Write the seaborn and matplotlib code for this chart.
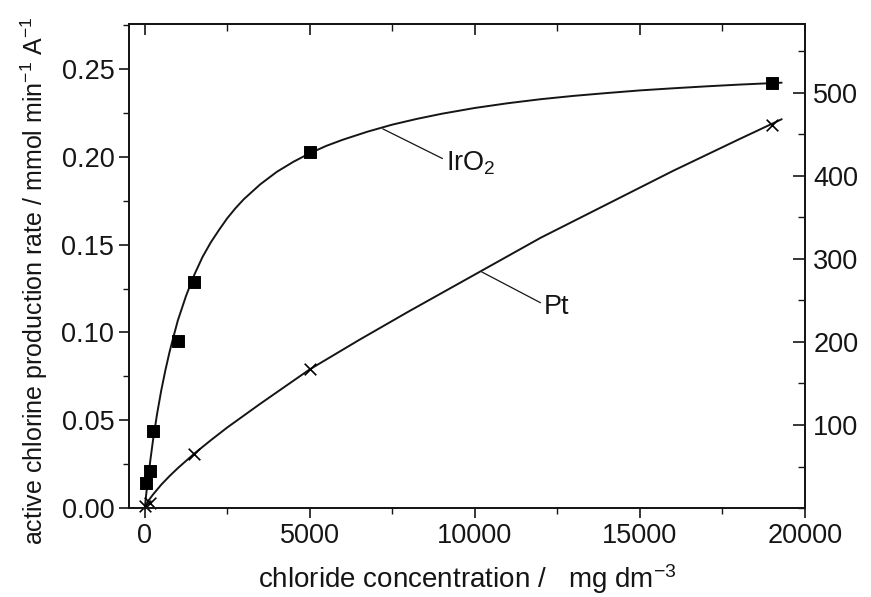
import numpy as np
import pandas as pd
import matplotlib
matplotlib.use("Agg")
import matplotlib.pyplot as plt
import seaborn as sns
from matplotlib.ticker import MultipleLocator

# ---- data ----
iro2_x = [50, 150, 250, 1000, 1500, 5000, 19000]
iro2_y = [0.014, 0.021, 0.044, 0.095, 0.129, 0.203, 0.242]

pt_x = [0, 150, 1500, 5000, 19000]
pt_y = [0.001, 0.003, 0.031, 0.079, 0.218]

# fitted curves
iro2_curve_x = [0, 50, 100, 175, 250, 375, 500, 625, 750, 875, 1000, 1250, 1500, 1750,
                2000, 2250, 2500, 2750, 3000, 3500, 4000, 4500, 5000, 5500, 6000, 6750,
                7500, 8250, 9000, 10000, 11000, 12000, 13000, 14000, 15000, 16000,
                17000, 18000, 19300]
iro2_curve_y = [0, 0.0088, 0.017, 0.028, 0.0386, 0.0538, 0.067, 0.0785, 0.0888, 0.0979,
                0.1067, 0.1208, 0.1328, 0.1430, 0.1513, 0.1584, 0.1651, 0.1708, 0.1759,
                0.1844, 0.1915, 0.1972, 0.2021, 0.2063, 0.2098, 0.2144, 0.2184, 0.2217,
                0.2246, 0.2279, 0.2306, 0.2329, 0.2348, 0.2364, 0.2379, 0.2391, 0.2402,
                0.2412, 0.2423]

pt_curve_x = [0, 50, 100, 250, 500, 750, 1000, 1500, 2000, 2500, 3500, 5000, 6500, 8000,
              10000, 12000, 14000, 16000, 18000, 19300]
pt_curve_y = [0, 0.0023, 0.0039, 0.0077, 0.0133, 0.0182, 0.0227, 0.031, 0.0386, 0.0459,
              0.0594, 0.079, 0.0958, 0.112, 0.133, 0.154, 0.173, 0.192, 0.210, 0.2215]

left_ticks = [0.00, 0.05, 0.10, 0.15, 0.20, 0.25]
right_ticks = [100, 200, 300, 400, 500]
x_ticks = [0, 5000, 10000, 15000, 20000]

sns.set_theme(style="ticks")
plt.rcParams["font.family"] = ["Liberation Sans", "DejaVu Sans"]
plt.rcParams["mathtext.fontset"] = "custom"
plt.rcParams["mathtext.rm"] = "Liberation Sans"
plt.rcParams["mathtext.it"] = "Liberation Sans"
plt.rcParams["axes.unicode_minus"] = False

fig = plt.figure(figsize=(8.71, 5.97), dpi=100)
ax = fig.add_axes([0.148, 0.149, 0.776, 0.811])

ink = "#151515"
curves = pd.concat([
    pd.DataFrame({"x": iro2_curve_x, "y": iro2_curve_y, "s": "IrO2"}),
    pd.DataFrame({"x": pt_curve_x, "y": pt_curve_y, "s": "Pt"}),
])
sns.lineplot(data=curves, x="x", y="y", units="s", estimator=None, color=ink,
             lw=1.4, ax=ax, sort=False)

sns.scatterplot(x=iro2_x, y=iro2_y, marker="s", s=70, color="black",
                edgecolor="black", ax=ax, zorder=5, clip_on=False)
sns.scatterplot(x=pt_x, y=pt_y, marker="x", s=70, color="black",
                linewidth=1.2, ax=ax, zorder=5, clip_on=False)

ax.set_xlim(-480, 20000)
ax.set_ylim(0, 0.2758)
ax.set_xticks(x_ticks)
ax.set_yticks(left_ticks)
ax.set_yticklabels([f"{v:.2f}" for v in left_ticks])
ax.xaxis.set_minor_locator(MultipleLocator(2500))
ax.yaxis.set_minor_locator(MultipleLocator(0.025))
ax.tick_params(axis="both", which="major", labelsize=19.5, colors=ink, length=7, width=1.2,
               direction="out", labelcolor=ink)
ax.tick_params(axis="both", which="minor", length=4, width=1.0, direction="out", color=ink)
ax.tick_params(axis="x", pad=4)

for sp in ax.spines.values():
    sp.set_color(ink)
    sp.set_linewidth(1.3)
    sp.set_visible(True)

ax.set_xlabel("chloride concentration /   mg dm$^{-3}$", fontsize=20, color=ink, labelpad=9)
ax.set_ylabel("active chlorine production rate / mmol min$^{-1}$ A$^{-1}$", fontsize=18,
              color=ink)
ax.yaxis.set_label_coords(-0.117, 0.47)

# top axis ticks (inward, no labels)
top = ax.secondary_xaxis("top")
top.set_xticks(x_ticks)
top.xaxis.set_minor_locator(MultipleLocator(2500))
top.tick_params(which="major", direction="in", length=8, width=1.2, labeltop=False, color=ink)
top.tick_params(which="minor", direction="in", length=5, width=1.0, color=ink)
top.spines["top"].set_color(ink)
top.spines["top"].set_linewidth(1.3)

# right axis
ax2 = ax.twinx()
ax2.set_ylim(0, 583)
ax2.set_yticks(right_ticks)
ax2.yaxis.set_minor_locator(MultipleLocator(50))
ax2.tick_params(which="major", direction="in", length=9, width=1.2, labelsize=19.5,
                colors=ink, pad=6)
ax2.tick_params(which="minor", direction="in", length=5, width=1.0, color=ink)
for sp in ax2.spines.values():
    sp.set_color(ink)
    sp.set_linewidth(1.3)

# curve annotations
ax.annotate("IrO$_2$", xy=(7212, 0.216), xytext=(9120, 0.1966), fontsize=19.5, color=ink,
            va="center", ha="left",
            arrowprops=dict(arrowstyle="-", color=ink, lw=0.9, shrinkA=0, shrinkB=0,
                            relpos=(0, 0.6)))
ax.annotate("Pt", xy=(10212, 0.1345), xytext=(12090, 0.1145), fontsize=19.5, color=ink,
            va="center", ha="left",
            arrowprops=dict(arrowstyle="-", color=ink, lw=0.9, shrinkA=0, shrinkB=0,
                            relpos=(0, 0.6)))

fig.savefig("out.png", dpi=100)
